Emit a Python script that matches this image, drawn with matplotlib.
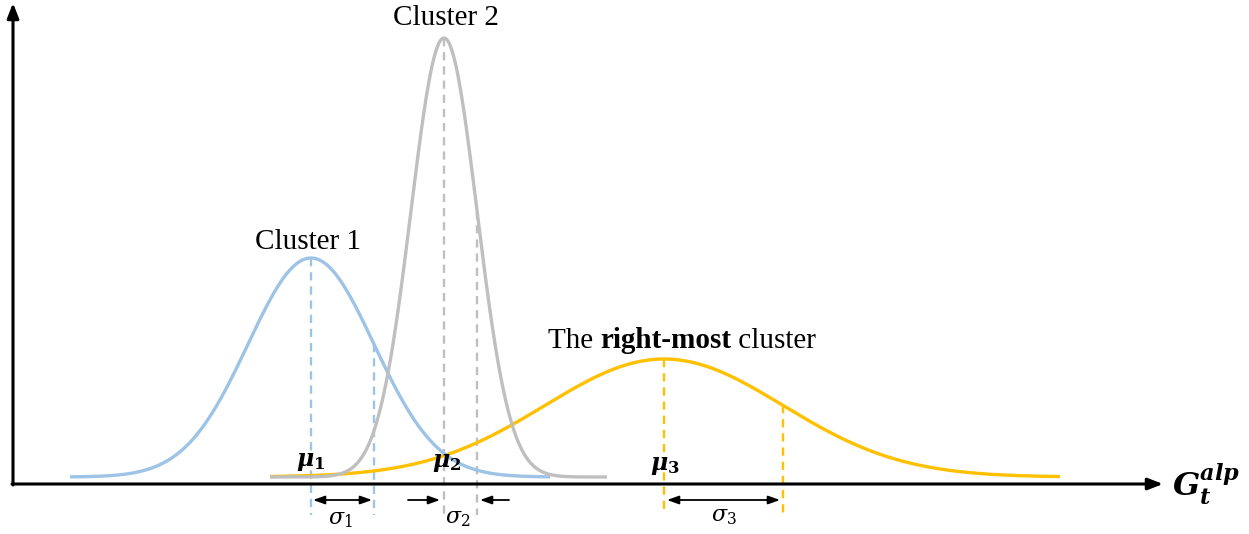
"""Schematic: three Gaussian clusters along G_t^alp."""
import matplotlib
matplotlib.use("Agg")
import matplotlib.pyplot as plt
import numpy as np

# cluster parameters (drawing units, y measured down from top)
names = ["Cluster 1", "Cluster 2", "right-most"]
mus = [311, 444, 664]
sigmas = [63, 33, 119]
heights = [219, 439, 118]
x_starts = [70, 270, 270]
x_ends = [550, 607, 1060]
colors = ["#9DC3E6", "#BFBFBF", "#FFC000"]
base = 477
axis_y = 484

plt.rcParams["font.family"] = ["Liberation Serif", "DejaVu Serif"]
plt.rcParams["mathtext.fontset"] = "dejavuserif"

fig = plt.figure(figsize=(12.49, 5.34), dpi=100)
ax = fig.add_axes([0, 0, 1, 1])
ax.set_xlim(0, 1249)
ax.set_ylim(534, 0)
ax.axis("off")

def gauss(x, m, s, h):
    return base - h * np.exp(-0.5 * ((x - m) / s) ** 2)

# axes with arrow heads
ax.annotate("", xy=(1163, axis_y), xytext=(12, axis_y),
            arrowprops=dict(arrowstyle="-|>,head_length=0.9,head_width=0.35",
                            color="black", lw=2.2, shrinkA=0, shrinkB=0))
ax.annotate("", xy=(13, 3), xytext=(13, axis_y + 1),
            arrowprops=dict(arrowstyle="-|>,head_length=0.9,head_width=0.35",
                            color="black", lw=2.2, shrinkA=0, shrinkB=0))

for i in [2, 0, 1]:
    xs = np.linspace(x_starts[i], x_ends[i], 400)
    ax.plot(xs, gauss(xs, mus[i], sigmas[i], heights[i]), color=colors[i],
            lw=2.4, zorder=3 if i != 2 else 2, solid_capstyle="butt")

# dashed guide lines at mu and mu + sigma
for i in range(3):
    m, s, h = mus[i], sigmas[i], heights[i]
    for xv in (m, m + s):
        ax.plot([xv, xv], [gauss(xv, m, s, h), 515], color=colors[i],
                lw=1.7, ls=(0, (3.5, 2.5)), zorder=1)

# mu labels
mu_pos = [(311, 462), (447, 463), (665, 466)]
for k, (x, y) in enumerate(mu_pos):
    ax.text(x, y, rf"$\mathbfit{{\mu}}_\mathbf{{{k + 1}}}$", ha="center",
            va="center", fontsize=17, zorder=5)

# sigma arrows
arr = dict(arrowstyle="<|-|>,head_length=0.7,head_width=0.25", color="black",
           lw=1.3, shrinkA=0, shrinkB=0)
one = dict(arrowstyle="-|>,head_length=0.7,head_width=0.25", color="black",
           lw=1.3, shrinkA=0, shrinkB=0)
ax.annotate("", xy=(mus[0] + sigmas[0] - 2, 500), xytext=(mus[0] + 2, 500),
            arrowprops=arr)
ax.annotate("", xy=(mus[2] + sigmas[2] - 3, 500), xytext=(mus[2] + 3, 500),
            arrowprops=arr)
ax.annotate("", xy=(mus[1] - 4, 500), xytext=(mus[1] - 36, 500),
            arrowprops=one)
ax.annotate("", xy=(mus[1] + sigmas[1] + 3, 500),
            xytext=(mus[1] + sigmas[1] + 32, 500), arrowprops=one)
sig_pos = [(340, 520), (458, 519), (724, 517)]
for k, (x, y) in enumerate(sig_pos):
    ax.text(x, y, rf"$\sigma_{k + 1}$", ha="center", va="center",
            fontsize=16, zorder=5)

# titles
ax.text(308, 242, names[0], ha="center", va="center", fontsize=21)
ax.text(446, 18, names[1], ha="center", va="center", fontsize=21)
t1 = ax.text(548, 341, "The ", ha="left", va="center", fontsize=21)
fig.canvas.draw()
r = fig.canvas.get_renderer()
bb = t1.get_window_extent(r)
x1 = ax.transData.inverted().transform((bb.x1, 0))[0]
t2 = ax.text(x1, 341, names[2], ha="left", va="center", fontsize=21,
             fontweight="bold")
bb = t2.get_window_extent(r)
x2 = ax.transData.inverted().transform((bb.x1, 0))[0]
ax.text(x2, 341, " cluster", ha="left", va="center", fontsize=21)

ax.text(1172, 484, r"$\mathbfit{G}_\mathbfit{t}^\mathbfit{alp}$", ha="left",
        va="center", fontsize=23)

fig.savefig("out.png", dpi=100)
